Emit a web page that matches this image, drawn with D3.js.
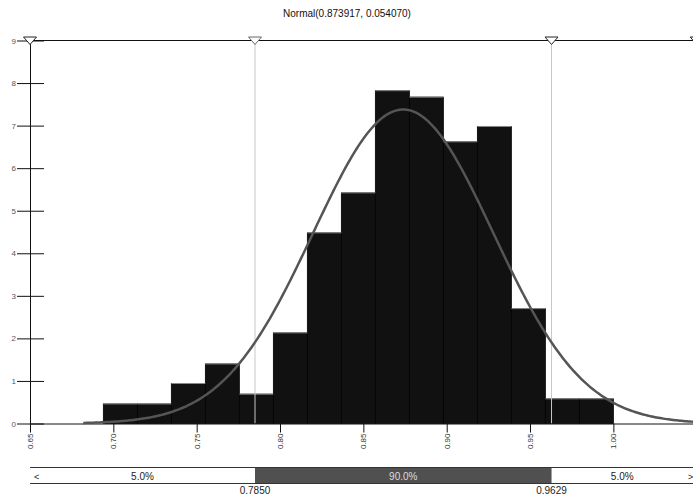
<!DOCTYPE html>
<html>
<head>
<meta charset="utf-8">
<script src="https://cdn.jsdelivr.net/npm/d3@7"></script>
<style>
  body { margin: 0; background: #fff; }
  svg { display: block; font-family: "Liberation Sans", Arial, sans-serif; }
</style>
</head>
<body>
<div id="chart"></div>
<script>
// Histogram data
var binEdges = [0.6940, 0.7144, 0.7348, 0.7552, 0.7756, 0.7960, 0.8164, 0.8368,
                0.8572, 0.8776, 0.8980, 0.9184, 0.9388, 0.9592, 0.9796, 1.0000];
var binHeights = [0.46, 0.46, 0.94, 1.40, 0.69, 2.13, 4.48, 5.42,
                  7.82, 7.67, 6.62, 6.98, 2.70, 0.58, 0.58];
var xTicks = [0.65, 0.70, 0.75, 0.80, 0.85, 0.90, 0.95, 1.00, 1.05];
var yTicks = [0, 1, 2, 3, 4, 5, 6, 7, 8, 9];
var fitMean = 0.873917;
var fitSd = 0.054070;
var cutoffs = [0.7850, 0.9629];
var bandLabels = ["5.0%", "90.0%", "5.0%"];
var title = "Normal(0.873917, 0.054070)";

var svgWidth = 693;
var svgHeight = 497;

var svg = d3.select("#chart")
  .append("svg")
  .attr("width", svgWidth)
  .attr("height", svgHeight);

// Scales
var xScale = d3.scaleLinear().domain([0.65, 1.05]).range([30, 696.7]);
var yScale = d3.scaleLinear().domain([0, 9]).range([423.5, 40.5]);

// Title
svg.append("text")
  .attr("x", 347)
  .attr("y", 17)
  .attr("text-anchor", "middle")
  .style("font-size", "10px")
  .attr("fill", "#111")
  .text(title);

// Bars
var bins = binHeights.map(function(h, i) {
  return { x0: binEdges[i], x1: binEdges[i + 1], h: h };
});

svg.selectAll("rect.bar")
  .data(bins)
  .enter()
  .append("rect")
  .attr("class", "bar")
  .attr("x", d => xScale(d.x0))
  .attr("y", d => yScale(d.h))
  .attr("width", d => xScale(d.x1) - xScale(d.x0))
  .attr("height", d => yScale(0) - yScale(d.h))
  .attr("fill", "#111")
  .attr("stroke", "#000")
  .attr("stroke-width", 0.8);

// light top edge of each bar
svg.selectAll("line.bartop")
  .data(bins)
  .enter()
  .append("line")
  .attr("x1", d => xScale(d.x0))
  .attr("x2", d => xScale(d.x1))
  .attr("y1", d => yScale(d.h))
  .attr("y2", d => yScale(d.h))
  .attr("stroke", "#8a8a8a")
  .attr("stroke-width", 1);

// Cutoff lines
svg.selectAll("line.cut")
  .data(cutoffs)
  .enter()
  .append("line")
  .attr("x1", d => xScale(d))
  .attr("x2", d => xScale(d))
  .attr("y1", yScale(9))
  .attr("y2", yScale(0))
  .attr("stroke", "#c8c8c8")
  .attr("stroke-width", 1);

// Y axis
var leftAxis = d3.axisLeft(yScale)
  .tickValues(yTicks)
  .tickSize(0)
  .tickPadding(0)
  .tickFormat(d3.format("d"));

var yAxisG = svg.append("g")
  .attr("transform", "translate(" + xScale(0.65) + ",0)")
  .call(leftAxis);
yAxisG.select(".domain").attr("stroke", "#111");
yAxisG.selectAll(".tick line").remove();
yAxisG.selectAll(".tick").append("line")
  .attr("x1", -13).attr("x2", 14)
  .attr("stroke", "#111");
yAxisG.selectAll(".tick text")
  .attr("x", -14)
  .attr("fill", "#555")
  .style("font-size", "8px");

// X axis
var bottomAxis = d3.axisBottom(xScale)
  .tickValues(xTicks)
  .tickSize(9)
  .tickFormat(d3.format(".2f"));

var xAxisG = svg.append("g")
  .attr("transform", "translate(0," + yScale(0) + ")")
  .call(bottomAxis);
xAxisG.select(".domain").attr("stroke", "#111").attr("d", "M30,0.5H696.7");
xAxisG.selectAll(".tick line").attr("stroke", "#111");
xAxisG.selectAll(".tick text")
  .attr("transform", "rotate(-90)")
  .attr("text-anchor", "end")
  .attr("x", -10)
  .attr("y", 0)
  .attr("dy", "0.32em")
  .attr("fill", "#333")
  .style("font-size", "8px");

// Fitted normal curve
var pdf = x => Math.exp(-0.5 * Math.pow((x - fitMean) / fitSd, 2)) / (fitSd * Math.sqrt(2 * Math.PI));
var curveX = d3.range(fitMean - 3.55 * fitSd, fitMean + 3.6 * fitSd, 0.001);
svg.append("path")
  .datum(curveX)
  .attr("fill", "none")
  .attr("stroke", "#555")
  .attr("stroke-width", 2.5)
  .attr("d", d3.line().x(d => xScale(d)).y(d => yScale(pdf(d))));

// Top line with triangle markers
svg.append("line")
  .attr("x1", xScale(0.65)).attr("x2", svgWidth)
  .attr("y1", yScale(9)).attr("y2", yScale(9))
  .attr("stroke", "#111");

var markerX = [0.65, cutoffs[0], cutoffs[1], 1.05];
svg.selectAll("path.marker")
  .data(markerX)
  .enter()
  .append("path")
  .attr("d", d => {
    var cx = xScale(d), top = yScale(9) - 3.5;
    return "M" + (cx - 6.5) + "," + top + "L" + (cx + 6.5) + "," + top + "L" + cx + "," + (top + 7.5) + "Z";
  })
  .attr("fill", "#fff")
  .attr("stroke", (d, i) => (i === 1 ? "#666" : "#222"))
  .attr("stroke-width", 1);

// Bottom band
var bandTop = 467.5, bandBottom = 483.5;
var bandEdges = [xScale(0.65), xScale(cutoffs[0]), xScale(cutoffs[1]), svgWidth];

svg.append("rect")
  .attr("x", bandEdges[1])
  .attr("y", bandTop)
  .attr("width", bandEdges[2] - bandEdges[1])
  .attr("height", bandBottom - bandTop)
  .attr("fill", "#505050");

[bandTop, bandBottom].forEach(function(y) {
  svg.append("line")
    .attr("x1", bandEdges[0]).attr("x2", svgWidth)
    .attr("y1", y).attr("y2", y)
    .attr("stroke", "#333");
});

svg.selectAll("text.band")
  .data(bandLabels)
  .enter()
  .append("text")
  .attr("x", (d, i) => (bandEdges[i] + bandEdges[i + 1]) / 2)
  .attr("y", bandTop + 12)
  .attr("text-anchor", "middle")
  .attr("fill", (d, i) => (i === 1 ? "#ddd" : "#222"))
  .style("font-size", "10px")
  .text(d => d);

svg.append("text")
  .attr("x", 34).attr("y", bandTop + 12)
  .style("font-size", "9px").attr("fill", "#222")
  .text("<");
svg.append("text")
  .attr("x", 688).attr("y", bandTop + 12)
  .style("font-size", "9px").attr("fill", "#222")
  .text(">");

svg.selectAll("text.cutlabel")
  .data(cutoffs)
  .enter()
  .append("text")
  .attr("x", d => xScale(d))
  .attr("y", bandBottom + 10)
  .attr("text-anchor", "middle")
  .attr("fill", "#222")
  .style("font-size", "10px")
  .text(d => d.toFixed(4));
</script>
</body>
</html>
